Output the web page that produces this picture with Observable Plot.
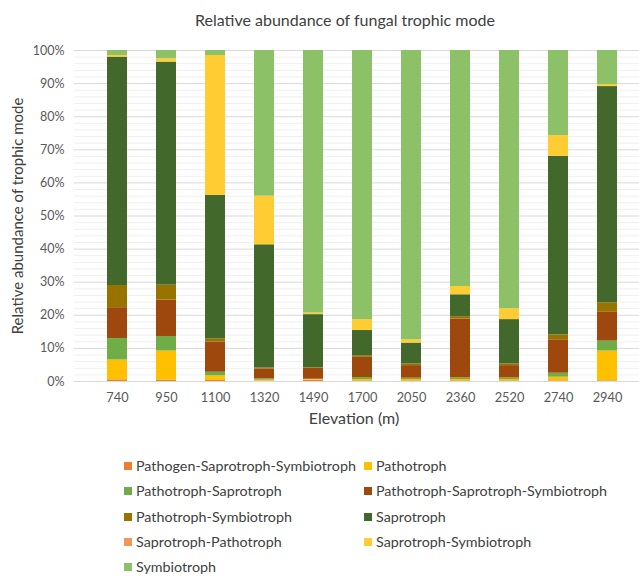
<!DOCTYPE html>
<html>
<head>
<meta charset="utf-8">
<script src="https://cdn.jsdelivr.net/npm/d3@7"></script>
<script src="https://cdn.jsdelivr.net/npm/@observablehq/plot@0.6"></script>
<style>
  body { margin: 0; background: white; font-family: Lato, "Open Sans", sans-serif; }
  #wrap { position: relative; width: 639px; height: 576px; overflow: hidden; }
  #title { position: absolute; left: 0; width: 690px; top: 10px; text-align: center; font-size: 16px; color: #404040; }
  #chart { position: absolute; left: 0; top: 36px; }
  .lg { position: absolute; font-size: 14.3px; color: #404040; white-space: nowrap; line-height: 18px; }
  .lg span.sw { display: inline-block; width: 8px; height: 8px; margin-right: 4px; vertical-align: 1px; }
</style>
</head>
<body>
<div id="wrap">
  <div id="title">Relative abundance of fungal trophic mode</div>
  <div id="chart"></div>
</div>
<script>
const elevations = ["740", "950", "1100", "1320", "1490", "1700", "2050", "2360", "2520", "2740", "2940"];
const modes = [
  "Pathogen-Saprotroph-Symbiotroph", "Pathotroph",
  "Pathotroph-Saprotroph", "Pathotroph-Saprotroph-Symbiotroph",
  "Pathotroph-Symbiotroph", "Saprotroph",
  "Saprotroph-Pathotroph", "Saprotroph-Symbiotroph",
  "Symbiotroph"
];
const colors = ["#ED7D31", "#FFC000", "#70AD47", "#9E480E", "#997300", "#43682B", "#F1975A", "#FFCD33", "#8CC168"];

// percent values per elevation, in the order of `elevations`
const pathogenSaprotrophSymbiotroph = [0.5, 0.4, 0.3, 0.1, 0.4, 0.2, 0.2, 0.2, 0.2, 0.2, 0.2];
const pathotroph                    = [6.0, 8.8, 1.4, 0.3, 0.2, 0.4, 0.4, 0.4, 0.4, 1.1, 9.0];
const pathotrophSaprotroph          = [6.5, 4.4, 1.1, 0.4, 0.1, 0.6, 0.4, 0.5, 0.5, 1.2, 3.0];
const pathotrophSaprotrophSymb      = [9.3, 11.0, 9.1, 3.0, 3.3, 6.1, 3.8, 17.8, 3.7, 10.1, 8.7];
const pathotrophSymbiotroph         = [6.7, 4.5, 1.0, 0.3, 0.2, 0.5, 0.5, 0.7, 0.5, 1.5, 2.9];
const saprotroph                    = [69.0, 67.4, 43.3, 37.2, 16.0, 7.6, 6.3, 6.6, 13.4, 53.9, 65.3];
const saprotrophPathotroph          = [0, 0, 0, 0, 0, 0, 0, 0, 0, 0, 0];
const saprotrophSymbiotroph         = [0.5, 1.0, 42.3, 14.7, 0.5, 3.3, 1.0, 2.5, 3.3, 6.3, 0.6];
const symbiotroph                   = [1.5, 2.5, 1.5, 44.0, 79.3, 81.3, 87.4, 71.3, 78.0, 25.7, 10.3];

const series = [pathogenSaprotrophSymbiotroph, pathotroph, pathotrophSaprotroph, pathotrophSaprotrophSymb,
  pathotrophSymbiotroph, saprotroph, saprotrophPathotroph, saprotrophSymbiotroph, symbiotroph];

const table = [];
elevations.forEach((e, i) => {
  modes.forEach((m, j) => table.push({elevation: e, mode: m, value: series[j][i]}));
});

const minor = d3.range(0, 101, 2).filter(v => v % 10 !== 0);
const major = d3.range(0, 101, 10);

const chart = Plot.plot({
  width: 639,
  height: 400,
  marginTop: 14,
  marginBottom: 55,
  marginLeft: 74,
  marginRight: 0,
  style: {fontFamily: "Lato, 'Open Sans', sans-serif", fontSize: "12px", color: "#595959", background: "white", overflow: "visible"},
  x: {domain: elevations, range: [76, 647], padding: 0.6, label: null},
  y: {domain: [0, 100], label: null},
  color: {domain: modes, range: colors},
  marks: [
    Plot.ruleY(minor, {stroke: "#efefef", strokeWidth: 1}),
    Plot.ruleY(major, {stroke: "#d9d9d9", strokeWidth: 1}),
    Plot.barY(table, {x: "elevation", y: "value", fill: "mode", order: null}),
    Plot.axisY({ticks: major, tickFormat: d => d + "%", tickSize: 0, tickPadding: 10, label: null, fontSize: 12.5}),
    Plot.axisX({tickSize: 0, tickPadding: 11, label: null, fontSize: 12.8}),
    Plot.text(["Elevation (m)"], {frameAnchor: "bottom", dx: -3, dy: 42, fontSize: 16, fill: "#404040"}),
    Plot.text(["Relative abundance of trophic mode"], {frameAnchor: "left", textAnchor: "middle", dx: -56, dy: 0, rotate: -90, fontSize: 15, fill: "#404040"})
  ]
});
document.getElementById("chart").appendChild(chart);

const wrap = document.getElementById("wrap");
modes.forEach((m, i) => {
  const col = i % 2, row = Math.floor(i / 2);
  const d = document.createElement("div");
  d.className = "lg";
  d.style.left = (col === 0 ? 124 : 364) + "px";
  d.style.top = (457 + row * 25.3) + "px";
  const sw = document.createElement("span");
  sw.className = "sw";
  sw.style.background = colors[i];
  d.appendChild(sw);
  d.appendChild(document.createTextNode(m));
  wrap.appendChild(d);
});
</script>
</body>
</html>
